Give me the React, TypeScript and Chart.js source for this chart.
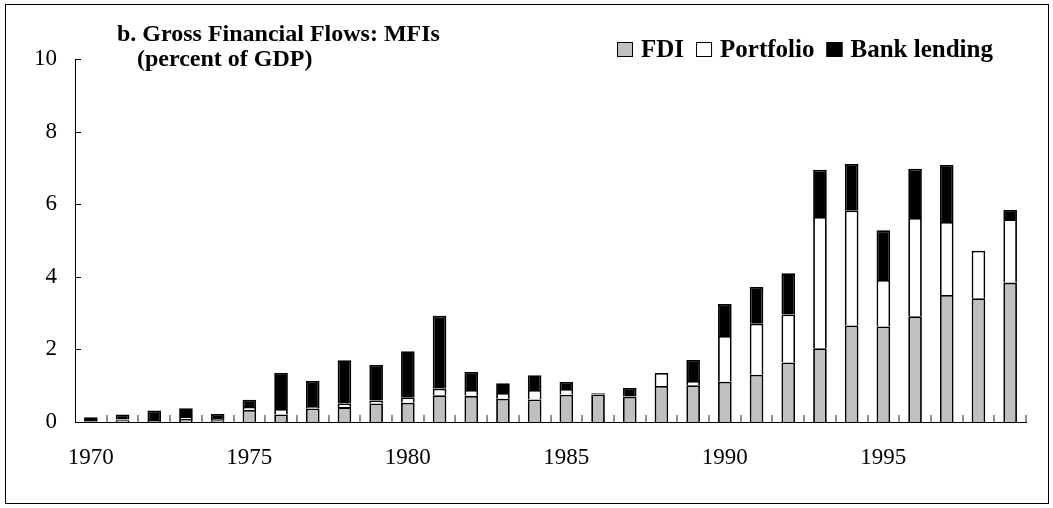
import React, { useEffect, useRef } from "react";
import { Chart, registerables } from "chart.js";

Chart.register(...registerables);

const years: string[] = [
  "1970", "1971", "1972", "1973", "1974", "1975", "1976", "1977", "1978", "1979",
  "1980", "1981", "1982", "1983", "1984", "1985", "1986", "1987", "1988", "1989",
  "1990", "1991", "1992", "1993", "1994", "1995", "1996", "1997", "1998", "1999",
];

const fdi: number[] = [
  0.02, 0.05, 0.03, 0.08, 0.05, 0.33, 0.21, 0.37, 0.41, 0.51,
  0.53, 0.74, 0.72, 0.64, 0.62, 0.75, 0.76, 0.70, 0.99, 1.01,
  1.11, 1.30, 1.64, 2.03, 2.66, 2.63, 2.91, 3.50, 3.41, 3.84,
];

const portfolio: number[] = [
  0.0, 0.02, 0.0, 0.06, 0.03, 0.08, 0.15, 0.04, 0.10, 0.08,
  0.15, 0.18, 0.16, 0.16, 0.26, 0.16, 0.01, 0.01, 0.36, 0.12,
  1.26, 1.41, 1.32, 3.62, 3.17, 1.28, 2.71, 2.01, 1.31, 1.75,
];

const bankLending: number[] = [
  0.11, 0.14, 0.29, 0.24, 0.14, 0.20, 0.99, 0.72, 1.19, 0.98,
  1.27, 2.01, 0.50, 0.27, 0.41, 0.19, 0.02, 0.23, 0.0, 0.58,
  0.88, 1.01, 1.14, 1.30, 1.28, 1.37, 1.36, 1.57, 0.0, 0.25,
];

const yTicks: number[] = [0, 2, 4, 6, 8, 10];
const titleLines: string[] = ["b. Gross Financial Flows: MFIs", "(percent of GDP)"];

const SERIF = '"Liberation Serif", "Times New Roman", serif';

const decorPlugin = {
  id: "decor",
  afterDraw(chart: any) {
    const ctx: CanvasRenderingContext2D = chart.ctx;
    const xs = chart.scales.x;
    const ys = chart.scales.y;
    ctx.save();
    // outer frame
    ctx.strokeStyle = "#000";
    ctx.lineWidth = 1;
    ctx.strokeRect(5.5, 4.5, 1043, 499);

    // inward x ticks at category boundaries
    const n = years.length;
    ctx.strokeStyle = "#555";
    ctx.lineWidth = 1.3;
    ctx.beginPath();
    for (let i = 1; i <= n; i++) {
      const x = Math.round(xs.left + (i * xs.width) / n);
      ctx.moveTo(x, ys.bottom);
      ctx.lineTo(x, ys.bottom - 7);
    }
    ctx.stroke();
    // inward y ticks
    ctx.strokeStyle = "#000";
    ctx.lineWidth = 1;
    ctx.beginPath();
    for (const v of yTicks) {
      const y = Math.round(ys.getPixelForValue(v)) + 0.5;
      ctx.moveTo(xs.left, y);
      ctx.lineTo(xs.left + 6, y);
    }
    ctx.stroke();

    // title
    ctx.fillStyle = "#000";
    ctx.font = `bold 24px ${SERIF}`;
    ctx.textAlign = "left";
    ctx.textBaseline = "alphabetic";
    ctx.fillText(titleLines[0], 117, 41);
    ctx.fillText(titleLines[1], 137, 66);

    // legend
    const items = chart.data.datasets.map((d: any) => ({
      label: d.label,
      fill: d.backgroundColor,
    }));
    let x = 617;
    const boxTop = 42;
    ctx.font = `bold 25px ${SERIF}`;
    for (const it of items) {
      ctx.fillStyle = it.fill;
      ctx.fillRect(x, boxTop, 16, 15);
      ctx.strokeStyle = "#000";
      ctx.lineWidth = 1;
      ctx.strokeRect(x + 0.5, boxTop + 0.5, 15, 14);
      ctx.fillStyle = "#000";
      ctx.fillText(it.label, x + 24, 57);
      x += 24 + ctx.measureText(it.label).width + 12;
    }
    ctx.restore();
  },
};

export default function App() {
  const ref = useRef<HTMLCanvasElement | null>(null);
  useEffect(() => {
    if (!ref.current) return;
    const chart = new Chart(ref.current, {
      type: "bar",
      data: {
        labels: years,
        datasets: [
          {
            label: "FDI",
            data: fdi,
            backgroundColor: "#c0c0c0",
            borderColor: "#000",
            borderWidth: 1.8,
          },
          {
            label: "Portfolio",
            data: portfolio,
            backgroundColor: "#ffffff",
            borderColor: "#000",
            borderWidth: 1.8,
          },
          {
            label: "Bank lending",
            data: bankLending,
            backgroundColor: "#000000",
            borderColor: "#000",
            borderWidth: 1.8,
          },
        ],
      },
      options: {
        responsive: false,
        animation: false,
        devicePixelRatio: 1,
        layout: { padding: { left: 0, right: 27, top: 59, bottom: 0 } },
        datasets: {
          bar: { barPercentage: 0.43, categoryPercentage: 1 },
        },
        plugins: {
          legend: { display: false },
          title: { display: false },
          tooltip: { enabled: false },
        },
        scales: {
          x: {
            stacked: true,
            offset: true,
            grid: { display: false, drawTicks: false },
            border: { display: true, color: "#000", width: 1 },
            ticks: {
              autoSkip: false,
              maxRotation: 0,
              minRotation: 0,
              padding: 22,
              color: "#000",
              font: { family: SERIF, size: 23 },
              callback: (_v: any, i: number) =>
                Number(years[i]) % 5 === 0 ? years[i] : "",
            },
            afterFit: (s: any) => {
              s.height = 86;
            },
          },
          y: {
            stacked: true,
            min: 0,
            max: 10,
            grid: { display: false, drawTicks: false },
            border: { display: true, color: "#000", width: 1 },
            afterBuildTicks: (s: any) => {
              s.ticks = yTicks.map((v) => ({ value: v }));
            },
            ticks: {
              padding: 18,
              color: "#000",
              font: { family: SERIF, size: 23 },
            },
            afterFit: (s: any) => {
              s.width = 75;
            },
          },
        },
      },
      plugins: [decorPlugin],
    });
    return () => chart.destroy();
  }, []);
  return (
    <div style={{ width: 1053, height: 508 }}>
      <style>{`body{margin:0;}`}</style>
      <canvas ref={ref} width={1053} height={508} />
    </div>
  );
}
